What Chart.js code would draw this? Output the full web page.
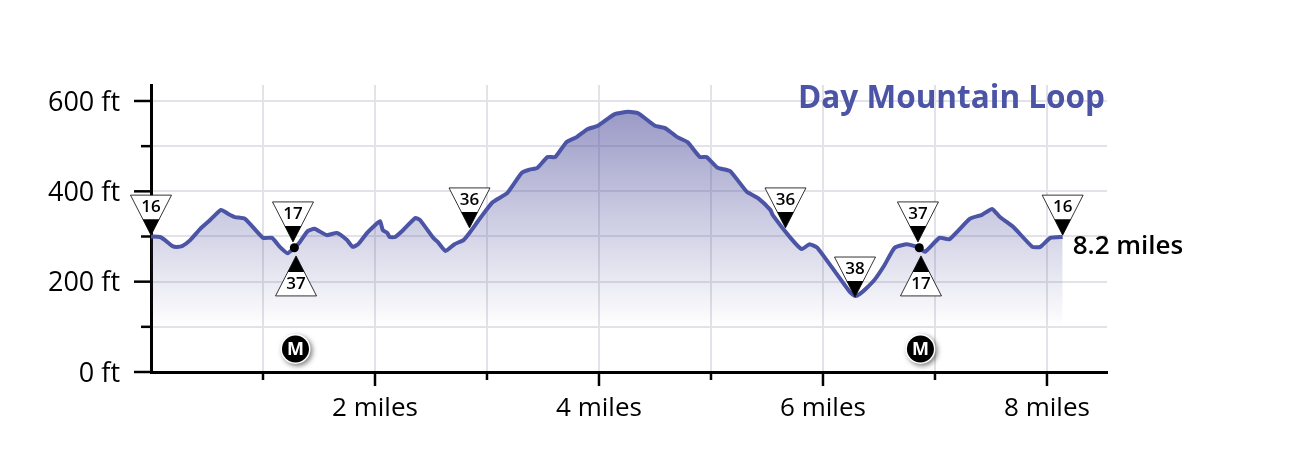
<!doctype html>
<html>

<head>
    <script src="https://cdn.jsdelivr.net/npm/chart.js"></script>
    <style type="text/css">
        body {
            margin: 0;
            background: #fff;
        }
    </style>
</head>

<body>
    <canvas id="profile" width="1300" height="460"></canvas>

    <script>
        const miles = [0, .08, .125, .19, .23, .28, .35, .44, .53, .625, .69, .75, .84, 1, 1.08, 1.15, 1.22, 1.28, 1.33, 1.4, 1.46, 1.57, 1.66, 1.75, 1.8, 1.85, 1.93, 2, 2.045, 2.07, 2.11, 2.13, 2.18, 2.25, 2.36, 2.4, 2.52, 2.56, 2.63, 2.71, 2.79, 2.85, 2.94, 3.05, 3.18, 3.31, 3.38, 3.45, 3.54, 3.61, 3.71, 3.8, 3.9, 3.99, 4.14, 4.26, 4.35, 4.5, 4.59, 4.7, 4.79, 4.9, 4.96, 5.06, 5.17, 5.32, 5.42, 5.53, 5.55, 5.71, 5.81, 5.88, 5.95, 6.24, 6.29, 6.33, 6.39, 6.46, 6.55, 6.64, 6.75, 6.86, 6.91, 7.04, 7.13, 7.31, 7.42, 7.51, 7.58, 7.7, 7.87, 7.94, 8.03, 8.14];
        const elevation = [300, 299, 292, 279, 277, 279, 292, 317, 337, 359, 350, 343, 339, 297, 297, 277, 263, 275, 288, 312, 317, 303, 308, 292, 277, 283, 308, 325, 334, 314, 308, 299, 299, 314, 341, 337, 297, 288, 268, 283, 292, 310, 341, 376, 396, 441, 448, 452, 476, 476, 509, 520, 538, 545, 571, 576, 573, 545, 540, 520, 509, 476, 476, 452, 445, 399, 385, 359, 348, 297, 272, 283, 275, 177, 168, 173, 186, 204, 237, 275, 283, 275, 266, 297, 294, 339, 348, 361, 343, 321, 277, 277, 297, 299];

        const xTickValues = [0, 1, 2, 3, 4, 5, 6, 7, 8];
        const xTickLabels = ['', '', '2 miles', '', '4 miles', '', '6 miles', '', '8 miles'];
        const yTickValues = [0, 100, 200, 300, 400, 500, 600];
        const yTickLabels = ['0 ft', '', '200 ft', '', '400 ft', '', '600 ft'];

        // trail junction signs: tip of the triangle sits at (mile, ft)
        const signMiles = [0, 1.268, 1.295, 2.844, 5.665, 6.286, 6.848, 6.875, 8.14];
        const signFt = [303, 288, 257, 319, 319, 166, 288, 257, 303];
        const signLabels = ['16', '17', '37', '36', '36', '38', '37', '17', '16'];
        const signUp = [false, false, true, false, false, false, false, true, false];

        const dotMiles = [1.28, 6.86];
        const dotFt = [275, 275];
        const metroMiles = [1.29, 6.87];
        const metroFt = [51, 51];

        const titleText = 'Day Mountain Loop';
        const endLabel = '8.2 miles';

        const FONT = "'Open Sans'";
        const BLUE = '#4b54a5';

        const extras = {
            id: 'extras',
            beforeDatasetsDraw(chart) {
                const ctx = chart.ctx;
                const x = chart.scales.x, y = chart.scales.y;
                ctx.save();
                ctx.strokeStyle = '#000';
                ctx.lineWidth = 2.5;
                y.ticks.forEach(t => {
                    const py = y.getPixelForValue(t.value);
                    const len = t.value % 200 == 0 ? 17 : 10;
                    ctx.beginPath();
                    ctx.moveTo(x.left - len, py);
                    ctx.lineTo(x.left, py);
                    ctx.stroke();
                });
                x.ticks.forEach(t => {
                    if (t.value == 0) return;
                    const px = x.getPixelForValue(t.value);
                    const len = t.value % 2 == 0 ? 14 : 8;
                    ctx.beginPath();
                    ctx.moveTo(px, y.bottom);
                    ctx.lineTo(px, y.bottom + len);
                    ctx.stroke();
                });
                ctx.restore();
            },
            afterDatasetsDraw(chart) {
                const ctx = chart.ctx;
                const x = chart.scales.x, y = chart.scales.y;
                ctx.save();

                ctx.font = 'bold 31.5px ' + FONT;
                ctx.fillStyle = BLUE;
                ctx.textAlign = 'right';
                ctx.textBaseline = 'middle';
                ctx.fillText(titleText, x.right - 2, y.getPixelForValue(600) - 2);

                signMiles.forEach((m, i) => {
                    const px = x.getPixelForValue(m);
                    const py = y.getPixelForValue(signFt[i]);
                    drawSign(ctx, px, py, signLabels[i], signUp[i]);
                });

                dotMiles.forEach((m, i) => {
                    ctx.fillStyle = '#000';
                    ctx.beginPath();
                    ctx.arc(x.getPixelForValue(m), y.getPixelForValue(dotFt[i]), 4.5, 0, Math.PI * 2);
                    ctx.fill();
                });

                metroMiles.forEach((m, i) => {
                    const px = x.getPixelForValue(m);
                    const py = y.getPixelForValue(metroFt[i]);
                    ctx.save();
                    ctx.shadowColor = 'rgba(0,0,0,0.5)';
                    ctx.shadowBlur = 5;
                    ctx.shadowOffsetX = 2;
                    ctx.shadowOffsetY = 2;
                    ctx.fillStyle = '#fff';
                    ctx.beginPath();
                    ctx.arc(px, py, 15, 0, Math.PI * 2);
                    ctx.fill();
                    ctx.restore();
                    ctx.fillStyle = '#000';
                    ctx.beginPath();
                    ctx.arc(px, py, 13.5, 0, Math.PI * 2);
                    ctx.fill();
                    ctx.fillStyle = '#fff';
                    ctx.font = 'bold 18px ' + FONT;
                    ctx.textAlign = 'center';
                    ctx.textBaseline = 'middle';
                    ctx.fillText('M', px, py + 1);
                });

                ctx.fillStyle = '#000';
                ctx.font = '600 26px ' + FONT;
                ctx.textAlign = 'left';
                ctx.textBaseline = 'middle';
                ctx.fillText(endLabel, x.getPixelForValue(8.14) + 10, y.getPixelForValue(278));

                ctx.restore();
            }
        };

        function drawSign(ctx, px, py, label, up) {
            const dir = up ? 1 : -1;
            const h = 40, half = 20.5, dark = 16;
            ctx.fillStyle = '#fff';
            ctx.strokeStyle = '#000';
            ctx.lineWidth = 0.8;
            ctx.beginPath();
            ctx.moveTo(px, py);
            ctx.lineTo(px - half, py + dir * h);
            ctx.lineTo(px + half, py + dir * h);
            ctx.closePath();
            ctx.fill();
            ctx.stroke();
            const w = half * dark / h;
            ctx.fillStyle = '#000';
            ctx.beginPath();
            ctx.moveTo(px, py);
            ctx.lineTo(px - w, py + dir * dark);
            ctx.lineTo(px + w, py + dir * dark);
            ctx.closePath();
            ctx.fill();
            ctx.font = '600 17px ' + FONT;
            ctx.textAlign = 'center';
            ctx.textBaseline = 'middle';
            ctx.fillText(label, px, py + dir * 28);
        }

        function fillGradient(context) {
            const chart = context.chart;
            if (!chart.chartArea) return 'transparent';
            const y = chart.scales.y;
            const g = chart.ctx.createLinearGradient(0, y.getPixelForValue(576), 0, y.getPixelForValue(100));
            g.addColorStop(0, 'rgba(75,75,155,0.56)');
            g.addColorStop(1, 'rgba(75,75,155,0)');
            return g;
        }

        new Chart(document.getElementById('profile').getContext('2d'), {
            type: 'line',
            data: {
                labels: miles,
                datasets: [{
                    data: miles.map((m, i) => ({ x: m, y: elevation[i] })),
                    borderColor: BLUE,
                    borderWidth: 4,
                    backgroundColor: fillGradient,
                    fill: { value: 100 },
                    pointRadius: 0,
                    tension: 0.15
                }]
            },
            options: {
                responsive: false,
                animation: false,
                devicePixelRatio: 1,
                layout: { padding: { top: 85, right: 193, left: 0, bottom: 0 } },
                plugins: { legend: { display: false }, tooltip: { enabled: false } },
                scales: {
                    x: {
                        type: 'linear',
                        min: 0,
                        max: 8.536,
                        afterBuildTicks: axis => { axis.ticks = xTickValues.map(v => ({ value: v })); },
                        afterFit: axis => { axis.height = 88; },
                        grid: { color: '#e2e2e8', lineWidth: 2, drawTicks: false },
                        border: { color: '#000', width: 3 },
                        ticks: {
                            autoSkip: false,
                            maxRotation: 0,
                            padding: 21,
                            color: '#000',
                            font: { family: FONT, size: 26 },
                            callback: (v, i) => xTickLabels[i]
                        }
                    },
                    y: {
                        min: 0,
                        max: 635.4,
                        afterBuildTicks: axis => { axis.ticks = yTickValues.map(v => ({ value: v })); },
                        afterFit: axis => { axis.width = 151; },
                        grid: { color: '#e2e2e8', lineWidth: 2, drawTicks: false },
                        border: { color: '#000', width: 3 },
                        ticks: {
                            autoSkip: false,
                            padding: 31,
                            labelOffset: 2,
                            color: '#000',
                            font: { family: FONT, size: 27 },
                            callback: (v, i) => yTickLabels[i]
                        }
                    }
                }
            },
            plugins: [extras]
        });
    </script>

</body>

</html>
